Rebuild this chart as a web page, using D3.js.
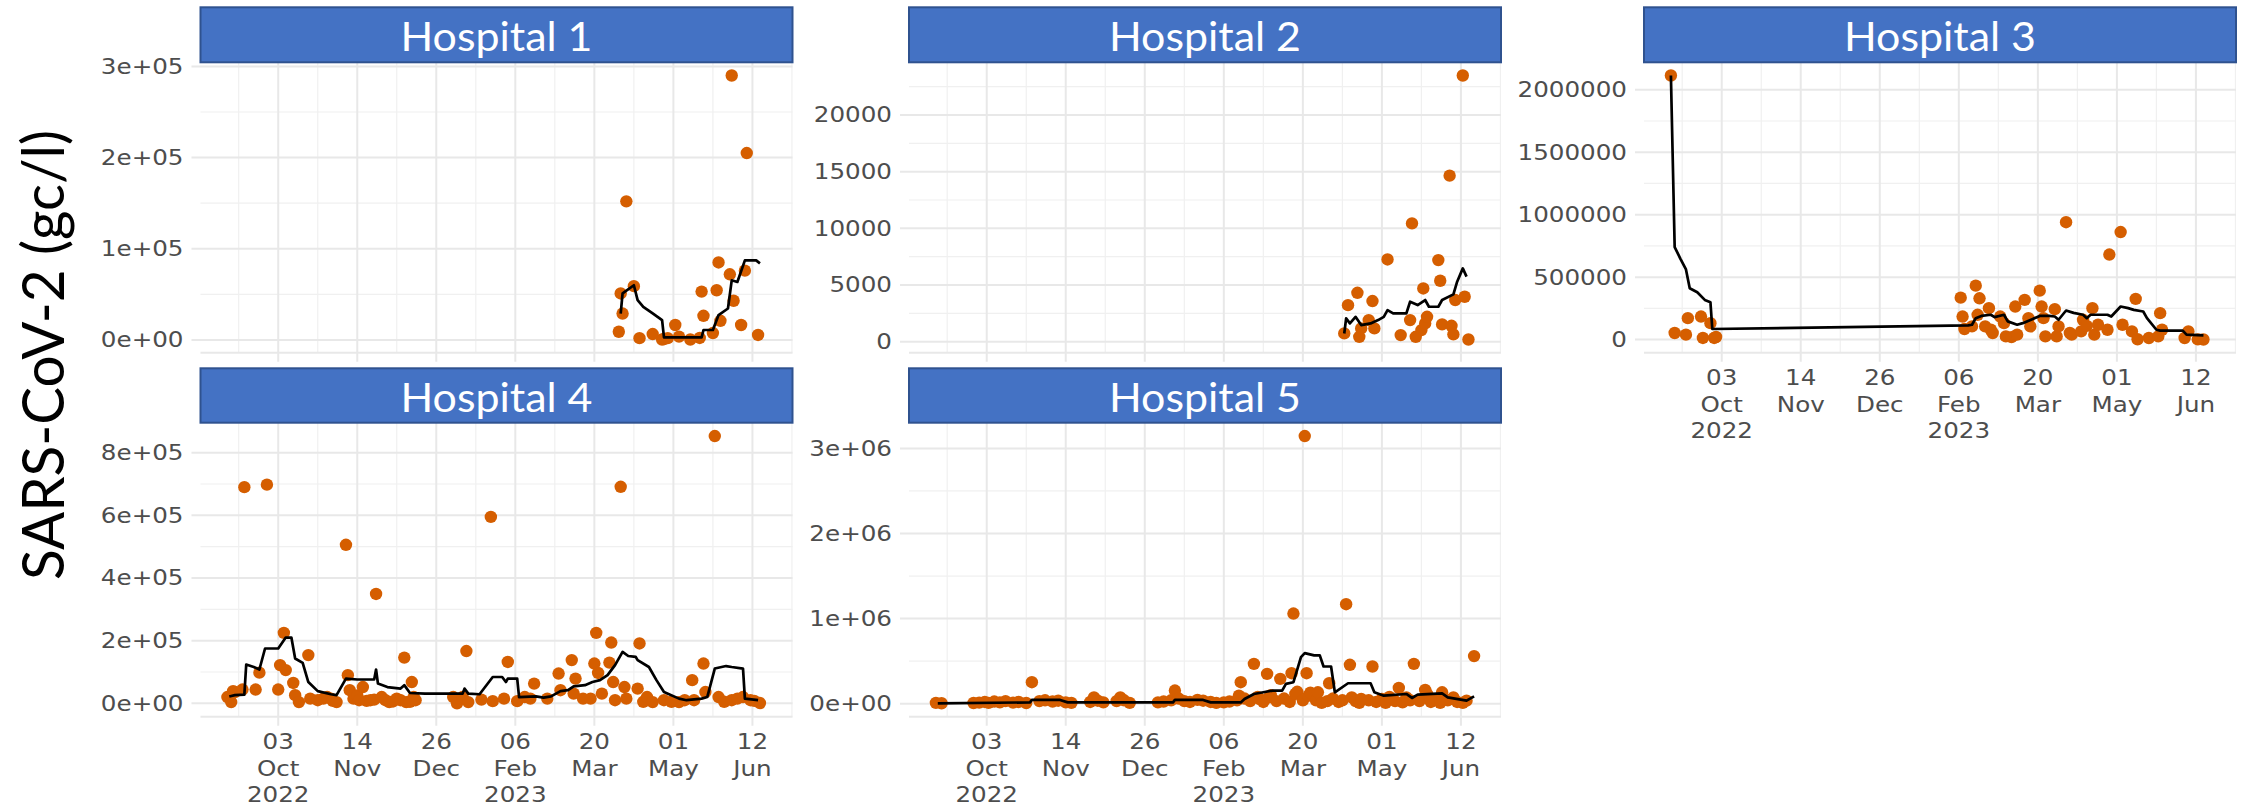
<!DOCTYPE html>
<html>
<head>
<meta charset="utf-8">
<script src="https://cdn.jsdelivr.net/npm/d3@7"></script>
<style>
  body { margin: 0; background: #fff; }
  svg { display: block; }
</style>
</head>
<body>
<svg id="chart"></svg>
<script>
/* ---------- Data ---------- */
const hospitalNames = ['Hospital 1', 'Hospital 2', 'Hospital 3', 'Hospital 4', 'Hospital 5'];
const yTitle = 'SARS-CoV-2 (gc/l)';

const xTickDates = ['2022-10-03', '2022-11-14', '2022-12-26', '2023-02-06', '2023-03-20', '2023-05-01', '2023-06-12'];
const xTickLabels = [['03', 'Oct', '2022'], ['14', 'Nov'], ['26', 'Dec'], ['06', 'Feb', '2023'], ['20', 'Mar'], ['01', 'May'], ['12', 'Jun']];

const h1Ticks = [0, 100000, 200000, 300000];
const h1TickLabels = ['0e+00', '1e+05', '2e+05', '3e+05'];
const h2Ticks = [0, 5000, 10000, 15000, 20000];
const h2TickLabels = ['0', '5000', '10000', '15000', '20000'];
const h3Ticks = [0, 500000, 1000000, 1500000, 2000000];
const h3TickLabels = ['0', '500000', '1000000', '1500000', '2000000'];
const h4Ticks = [0, 200000, 400000, 600000, 800000];
const h4TickLabels = ['0e+00', '2e+05', '4e+05', '6e+05', '8e+05'];
const h5Ticks = [0, 1000000, 2000000, 3000000];
const h5TickLabels = ['0e+00', '1e+06', '2e+06', '3e+06'];

// measured concentrations (points)
const h1Points = [
  ['2023-04-02', 9000], ['2023-04-03', 51000], ['2023-04-04', 29000], ['2023-04-06', 152000],
  ['2023-04-10', 59000], ['2023-04-13', 2000], ['2023-04-20', 6500], ['2023-04-25', 500],
  ['2023-04-26', 1000], ['2023-04-28', 2000], ['2023-05-02', 16400], ['2023-05-04', 3600],
  ['2023-05-10', 500], ['2023-05-15', 2200], ['2023-05-16', 53000], ['2023-05-17', 26500],
  ['2023-05-22', 7600], ['2023-05-24', 54500], ['2023-05-25', 85000], ['2023-05-26', 21000],
  ['2023-05-31', 72000], ['2023-06-01', 290000], ['2023-06-02', 43000], ['2023-06-06', 16400],
  ['2023-06-08', 76000], ['2023-06-09', 205000], ['2023-06-15', 5500]
];
const h2Points = [
  ['2023-04-11', 740], ['2023-04-13', 3230], ['2023-04-18', 4320], ['2023-04-19', 440],
  ['2023-04-20', 1180], ['2023-04-24', 1910], ['2023-04-26', 3590], ['2023-04-27', 1180],
  ['2023-05-04', 7260], ['2023-05-11', 590], ['2023-05-16', 1910], ['2023-05-17', 10440],
  ['2023-05-19', 440], ['2023-05-22', 1030], ['2023-05-23', 4700], ['2023-05-24', 1620],
  ['2023-05-25', 2200], ['2023-05-31', 7200], ['2023-06-01', 5380], ['2023-06-02', 1530],
  ['2023-06-06', 14650], ['2023-06-07', 1410], ['2023-06-08', 650], ['2023-06-09', 3680],
  ['2023-06-13', 23480], ['2023-06-14', 3970], ['2023-06-16', 200]
];
const h3Points = [
  ['2022-09-06', 2114000], ['2022-09-08', 53000], ['2022-09-14', 40000], ['2022-09-15', 172000],
  ['2022-09-22', 185000], ['2022-09-23', 13500], ['2022-09-27', 132000], ['2022-09-29', 13500],
  ['2022-09-30', 21000],
  ['2023-02-07', 336000], ['2023-02-08', 185000], ['2023-02-09', 85000], ['2023-02-13', 106000],
  ['2023-02-15', 432000], ['2023-02-16', 199000], ['2023-02-17', 331000], ['2023-02-20', 106000],
  ['2023-02-22', 252000], ['2023-02-23', 79000], ['2023-02-24', 53000], ['2023-02-28', 185000],
  ['2023-03-02', 132000], ['2023-03-03', 26000], ['2023-03-06', 20000], ['2023-03-08', 265000],
  ['2023-03-09', 40000], ['2023-03-13', 318000], ['2023-03-15', 172000], ['2023-03-16', 106000],
  ['2023-03-21', 392000], ['2023-03-22', 265000], ['2023-03-23', 172000], ['2023-03-24', 26000],
  ['2023-03-29', 244000], ['2023-03-30', 26000], ['2023-03-31', 106000], ['2023-04-04', 940000],
  ['2023-04-06', 53000], ['2023-04-07', 40000], ['2023-04-12', 66000], ['2023-04-13', 159000],
  ['2023-04-15', 110000], ['2023-04-18', 252000], ['2023-04-19', 40000], ['2023-04-21', 119000],
  ['2023-04-26', 79000], ['2023-04-27', 681000], ['2023-05-03', 861000], ['2023-05-04', 119000],
  ['2023-05-09', 66000], ['2023-05-11', 326000], ['2023-05-12', 3000], ['2023-05-18', 13000],
  ['2023-05-23', 26000], ['2023-05-24', 212000], ['2023-05-25', 79000], ['2023-06-06', 13000],
  ['2023-06-08', 66000], ['2023-06-13', 2000], ['2023-06-16', 1000]
];
const h4Points = [
  ['2022-09-06', 20000], ['2022-09-08', 4000], ['2022-09-09', 39000], ['2022-09-10', 36000],
  ['2022-09-14', 44000], ['2022-09-15', 690000], ['2022-09-21', 44000], ['2022-09-23', 98000],
  ['2022-09-27', 698000], ['2022-10-03', 44000], ['2022-10-04', 122000], ['2022-10-06', 225000],
  ['2022-10-07', 106000], ['2022-10-11', 65000], ['2022-10-12', 26000], ['2022-10-14', 4000],
  ['2022-10-19', 154000], ['2022-10-20', 15000], ['2022-10-24', 10000], ['2022-10-27', 15000],
  ['2022-10-29', 20000], ['2022-10-31', 15000], ['2022-11-01', 8000], ['2022-11-03', 4000],
  ['2022-11-08', 506000], ['2022-11-09', 90000], ['2022-11-10', 42000], ['2022-11-12', 15000],
  ['2022-11-14', 25000], ['2022-11-15', 10000], ['2022-11-17', 52000], ['2022-11-19', 8000],
  ['2022-11-21', 10000], ['2022-11-23', 12000], ['2022-11-24', 349000], ['2022-11-27', 20000],
  ['2022-11-29', 10000], ['2022-12-01', 4000], ['2022-12-03', 6000], ['2022-12-05', 15000],
  ['2022-12-07', 10000], ['2022-12-09', 146000], ['2022-12-10', 4000], ['2022-12-12', 5000],
  ['2022-12-13', 68000], ['2022-12-14', 20000], ['2022-12-15', 10000],
  ['2023-01-04', 20000], ['2023-01-06', 0], ['2023-01-09', 20000], ['2023-01-11', 167000],
  ['2023-01-12', 4000], ['2023-01-19', 12000], ['2023-01-24', 595000], ['2023-01-25', 7000],
  ['2023-01-31', 15000], ['2023-02-02', 132000], ['2023-02-07', 7000], ['2023-02-11', 20000],
  ['2023-02-14', 15000], ['2023-02-16', 63000], ['2023-02-23', 15000], ['2023-03-01', 95000],
  ['2023-03-02', 42000], ['2023-03-08', 138000], ['2023-03-09', 31000], ['2023-03-10', 79000],
  ['2023-03-14', 15000], ['2023-03-18', 15000], ['2023-03-20', 127000], ['2023-03-21', 225000],
  ['2023-03-22', 97000], ['2023-03-24', 31000], ['2023-03-28', 130000], ['2023-03-29', 194000],
  ['2023-03-30', 68000], ['2023-03-31', 10000], ['2023-04-03', 691000], ['2023-04-05', 52000],
  ['2023-04-06', 15000], ['2023-04-12', 47000], ['2023-04-13', 191000], ['2023-04-15', 5000],
  ['2023-04-17', 20000], ['2023-04-20', 4000], ['2023-04-26', 10000], ['2023-04-30', 5000],
  ['2023-05-04', 4000], ['2023-05-07', 10000], ['2023-05-11', 74000], ['2023-05-12', 10000],
  ['2023-05-17', 127000], ['2023-05-18', 36000], ['2023-05-23', 853000], ['2023-05-25', 20000],
  ['2023-05-28', 5000], ['2023-06-01', 10000], ['2023-06-04', 15000], ['2023-06-07', 20000],
  ['2023-06-11', 10000], ['2023-06-13', 8000], ['2023-06-16', 1000]
];
const h5Points = [
  ['2022-09-06', 10000], ['2022-09-09', 5000], ['2022-09-26', 8000], ['2022-09-29', 12000],
  ['2022-10-02', 20000], ['2022-10-04', 10000], ['2022-10-07', 25000], ['2022-10-10', 15000],
  ['2022-10-13', 30000], ['2022-10-17', 12000], ['2022-10-20', 20000], ['2022-10-24', 8000],
  ['2022-10-27', 252000], ['2022-10-31', 30000], ['2022-11-03', 40000], ['2022-11-07', 25000],
  ['2022-11-10', 35000], ['2022-11-14', 15000], ['2022-11-17', 10000], ['2022-11-27', 20000],
  ['2022-11-29', 74000], ['2022-12-01', 35000], ['2022-12-04', 15000], ['2022-12-11', 30000],
  ['2022-12-13', 74000], ['2022-12-15', 40000], ['2022-12-18', 10000],
  ['2023-01-02', 15000], ['2023-01-05', 25000], ['2023-01-09', 40000], ['2023-01-11', 154000],
  ['2023-01-13', 60000], ['2023-01-16', 30000], ['2023-01-19', 20000], ['2023-01-23', 45000],
  ['2023-01-26', 35000], ['2023-01-30', 20000], ['2023-02-02', 10000], ['2023-02-06', 15000],
  ['2023-02-09', 25000], ['2023-02-13', 40000], ['2023-02-14', 94000], ['2023-02-15', 252000],
  ['2023-02-17', 60000], ['2023-02-20', 30000], ['2023-02-22', 468000], ['2023-02-24', 80000],
  ['2023-02-25', 55000], ['2023-02-27', 20000], ['2023-03-01', 350000], ['2023-03-02', 74000],
  ['2023-03-03', 100000], ['2023-03-06', 30000], ['2023-03-08', 292000], ['2023-03-10', 60000],
  ['2023-03-13', 20000], ['2023-03-14', 358000], ['2023-03-15', 1059000], ['2023-03-16', 114000],
  ['2023-03-17', 140000], ['2023-03-20', 40000], ['2023-03-21', 3145000], ['2023-03-22', 358000],
  ['2023-03-23', 94000], ['2023-03-24', 130000], ['2023-03-27', 40000], ['2023-03-28', 134000],
  ['2023-03-30', 10000], ['2023-04-02', 30000], ['2023-04-03', 240000], ['2023-04-05', 60000],
  ['2023-04-08', 20000], ['2023-04-10', 40000], ['2023-04-12', 1169000], ['2023-04-14', 457000],
  ['2023-04-15', 74000], ['2023-04-17', 30000], ['2023-04-19', 10000], ['2023-04-20', 55000],
  ['2023-04-24', 40000], ['2023-04-26', 437000], ['2023-04-28', 20000], ['2023-05-01', 55000],
  ['2023-05-03', 10000], ['2023-05-05', 80000], ['2023-05-08', 30000], ['2023-05-10', 185000],
  ['2023-05-12', 15000], ['2023-05-14', 74000], ['2023-05-16', 40000], ['2023-05-18', 468000],
  ['2023-05-21', 30000], ['2023-05-24', 162000], ['2023-05-25', 114000], ['2023-05-27', 20000],
  ['2023-05-30', 50000], ['2023-06-01', 10000], ['2023-06-02', 134000], ['2023-06-05', 40000],
  ['2023-06-08', 74000], ['2023-06-10', 20000], ['2023-06-13', 10000], ['2023-06-15', 35000],
  ['2023-06-19', 559000]
];

// smoothed trend line (black), vertices
const h1Line = [
  ['2023-04-03', 29000], ['2023-04-04', 51000], ['2023-04-10', 60000], ['2023-04-12', 43600],
  ['2023-04-15', 36300], ['2023-04-20', 29100], ['2023-04-25', 21800], ['2023-04-26', 2900],
  ['2023-05-16', 2900], ['2023-05-17', 10900], ['2023-05-22', 10900], ['2023-05-25', 27300],
  ['2023-05-30', 34500], ['2023-06-01', 65400], ['2023-06-04', 63600], ['2023-06-08', 87300],
  ['2023-06-14', 87300], ['2023-06-16', 84000]
];
const h2Line = [
  ['2023-04-11', 730], ['2023-04-12', 2060], ['2023-04-14', 1620], ['2023-04-17', 2200],
  ['2023-04-20', 1470], ['2023-04-25', 1620], ['2023-04-29', 1910], ['2023-05-02', 2200],
  ['2023-05-04', 2790], ['2023-05-07', 2500], ['2023-05-14', 2500], ['2023-05-16', 3530],
  ['2023-05-20', 3240], ['2023-05-24', 3680], ['2023-05-26', 3090], ['2023-05-31', 3090],
  ['2023-06-02', 3680], ['2023-06-08', 4180], ['2023-06-10', 5300], ['2023-06-13', 6470],
  ['2023-06-15', 5740]
];
const h3Line = [
  ['2022-09-06', 2114000], ['2022-09-08', 741000], ['2022-09-11', 649000], ['2022-09-14', 562000],
  ['2022-09-16', 411000], ['2022-09-20', 379000], ['2022-09-24', 318000], ['2022-09-27', 300000],
  ['2022-09-28', 85000],
  ['2023-02-11', 114000], ['2023-02-13', 119000], ['2023-02-15', 172000], ['2023-02-18', 190000],
  ['2023-02-23', 199000], ['2023-02-25', 180000], ['2023-03-02', 199000], ['2023-03-04', 146000],
  ['2023-03-09', 119000], ['2023-03-12', 132000], ['2023-03-17', 164000], ['2023-03-21', 190000],
  ['2023-03-26', 190000], ['2023-03-29', 185000], ['2023-03-31', 159000], ['2023-04-04', 233000],
  ['2023-04-08', 214000], ['2023-04-13', 199000], ['2023-04-15', 172000], ['2023-04-17', 199000],
  ['2023-04-26', 199000], ['2023-04-28', 185000], ['2023-05-03', 265000], ['2023-05-07', 252000],
  ['2023-05-10', 238000], ['2023-05-15', 225000], ['2023-05-17', 172000], ['2023-05-22', 79000],
  ['2023-05-24', 72000], ['2023-06-05', 72000], ['2023-06-07', 40000], ['2023-06-16', 34000]
];
const h4Line = [
  ['2022-09-07', 22000], ['2022-09-10', 26000], ['2022-09-15', 28000], ['2022-09-16', 124000],
  ['2022-09-20', 116000], ['2022-09-23', 108000], ['2022-09-26', 175000], ['2022-10-03', 175000],
  ['2022-10-07', 210000], ['2022-10-10', 210000], ['2022-10-12', 143000], ['2022-10-16', 129000],
  ['2022-10-19', 68000], ['2022-10-24', 39000], ['2022-10-31', 29000], ['2022-11-03', 26000],
  ['2022-11-08', 79000], ['2022-11-14', 76000], ['2022-11-23', 76000], ['2022-11-24', 108000],
  ['2022-11-25', 63000], ['2022-11-30', 52000], ['2022-12-07', 47000], ['2022-12-09', 58000],
  ['2022-12-12', 33000], ['2022-12-20', 31000],
  ['2023-01-09', 31000], ['2023-01-10', 47000], ['2023-01-12', 31000], ['2023-01-18', 29000],
  ['2023-01-25', 84000], ['2023-01-30', 84000], ['2023-02-01', 68000], ['2023-02-02', 79000],
  ['2023-02-07', 79000], ['2023-02-08', 20000], ['2023-02-17', 22000], ['2023-02-21', 18000],
  ['2023-02-25', 22000], ['2023-03-02', 39000], ['2023-03-06', 42000], ['2023-03-09', 54000],
  ['2023-03-15', 58000], ['2023-03-19', 68000], ['2023-03-23', 74000], ['2023-03-27', 90000],
  ['2023-03-31', 122000], ['2023-04-04', 164000], ['2023-04-07', 151000], ['2023-04-11', 148000],
  ['2023-04-12', 138000], ['2023-04-18', 116000], ['2023-04-22', 74000], ['2023-04-26', 36000],
  ['2023-05-04', 15000], ['2023-05-08', 10000], ['2023-05-16', 15000], ['2023-05-19', 20000],
  ['2023-05-23', 111000], ['2023-05-29', 119000], ['2023-06-01', 116000], ['2023-06-07', 111000],
  ['2023-06-08', 15000], ['2023-06-15', 10000]
];
const h5Line = [
  ['2022-09-07', 4000], ['2022-10-26', 15000], ['2022-10-27', 44000], ['2022-11-11', 44000],
  ['2022-11-15', 15000],
  ['2023-01-10', 15000], ['2023-01-11', 44000], ['2023-01-26', 44000], ['2023-01-30', 15000],
  ['2023-02-15', 15000], ['2023-02-17', 55000], ['2023-02-22', 114000], ['2023-02-27', 134000],
  ['2023-03-04', 154000], ['2023-03-09', 154000], ['2023-03-11', 232000], ['2023-03-15', 252000],
  ['2023-03-19', 547000], ['2023-03-21', 594000], ['2023-03-26', 567000], ['2023-03-29', 567000],
  ['2023-03-31', 437000], ['2023-04-04', 437000], ['2023-04-06', 134000], ['2023-04-13', 240000],
  ['2023-04-25', 240000], ['2023-04-27', 134000], ['2023-05-02', 94000], ['2023-05-14', 114000],
  ['2023-05-17', 67000], ['2023-05-20', 106000], ['2023-06-02', 122000], ['2023-06-05', 74000],
  ['2023-06-15', 35000], ['2023-06-19', 86000]
];

/* ---------- Setup ---------- */
const W = 2246, H = 807;
const parseDate = d3.timeParse('%Y-%m-%d');

const colours = {
  point: '#D55E00',
  line: '#000000',
  gridMajor: '#e8e8e8',
  gridMinor: '#f0f0f0',
  stripFill: '#4472C4',
  stripStroke: '#2F528F',
  tickText: '#4d4d4d'
};

const colLeft = [200.5, 909, 1644];
const rowBox = [
  { strip: 7.3, top: 62.3, bottom: 352.7 },
  { strip: 368.3, top: 422.7, bottom: 716.7 }
];
const panelW = 592;
const labelScaleX = 1.2;

const panels = [
  { name: hospitalNames[0], points: h1Points, line: h1Line, ticks: h1Ticks, labels: h1TickLabels, col: 0, row: 0, xAxis: false },
  { name: hospitalNames[1], points: h2Points, line: h2Line, ticks: h2Ticks, labels: h2TickLabels, col: 1, row: 0, xAxis: false },
  { name: hospitalNames[2], points: h3Points, line: h3Line, ticks: h3Ticks, labels: h3TickLabels, col: 2, row: 0, xAxis: true },
  { name: hospitalNames[3], points: h4Points, line: h4Line, ticks: h4Ticks, labels: h4TickLabels, col: 0, row: 1, xAxis: true },
  { name: hospitalNames[4], points: h5Points, line: h5Line, ticks: h5Ticks, labels: h5TickLabels, col: 1, row: 1, xAxis: true }
];

// shared x domain: data range padded by 5% (ggplot default)
const allDates = panels.flatMap(p => p.points.concat(p.line).map(d => parseDate(d[0])));
const [dMin, dMax] = d3.extent(allDates);
const dPad = (dMax - dMin) * 0.05;
const xDomain = [new Date(+dMin - dPad), new Date(+dMax + dPad)];

const majorDates = xTickDates.map(parseDate);
const minorDates = majorDates.map(d => d3.timeDay.offset(d, -21))
  .concat([d3.timeDay.offset(majorDates[majorDates.length - 1], 21)])
  .filter(d => d >= xDomain[0] && d <= xDomain[1]);

const svg = d3.select('#chart').attr('width', W).attr('height', H);
svg.append('rect').attr('width', W).attr('height', H).attr('fill', '#fff');

/* ---------- Panels ---------- */
panels.forEach(p => {
  const L = colLeft[p.col];
  const box = rowBox[p.row];
  const g = svg.append('g').attr('class', 'panel');

  const x = d3.scaleTime().domain(xDomain).range([L, L + panelW]);
  const vals = p.points.concat(p.line).map(d => d[1]);
  const [vMin, vMax] = d3.extent(vals);
  const vPad = (vMax - vMin) * 0.05;
  const y = d3.scaleLinear().domain([vMin - vPad, vMax + vPad]).range([box.bottom, box.top]);

  const step = p.ticks[1] - p.ticks[0];
  const minorY = d3.range(p.ticks[0] - step / 2, y.domain()[1], step)
    .filter(v => v >= y.domain()[0]);

  const grid = g.append('g').attr('class', 'grid');
  // minor grid
  grid.selectAll('.hminor').data(minorY).join('line')
    .attr('x1', L).attr('x2', L + panelW)
    .attr('y1', d => y(d)).attr('y2', d => y(d))
    .attr('stroke', colours.gridMinor).attr('stroke-width', 1.2);
  grid.selectAll('.vminor').data(minorDates).join('line')
    .attr('x1', d => x(d)).attr('x2', d => x(d))
    .attr('y1', box.top).attr('y2', box.bottom)
    .attr('stroke', colours.gridMinor).attr('stroke-width', 1.2);
  // major grid (+ short ticks beyond the panel)
  grid.selectAll('.hmajor').data(p.ticks).join('line')
    .attr('x1', L - 9).attr('x2', L + panelW)
    .attr('y1', d => y(d)).attr('y2', d => y(d))
    .attr('stroke', colours.gridMajor).attr('stroke-width', 2);
  grid.selectAll('.vmajor').data(majorDates).join('line')
    .attr('x1', d => x(d)).attr('x2', d => x(d))
    .attr('y1', box.top).attr('y2', box.bottom + 9)
    .attr('stroke', colours.gridMajor).attr('stroke-width', 2);
  grid.append('line')
    .attr('x1', L).attr('x2', L + panelW)
    .attr('y1', box.bottom).attr('y2', box.bottom)
    .attr('stroke', colours.gridMajor).attr('stroke-width', 2);

  // points
  g.append('g').selectAll('circle').data(p.points).join('circle')
    .attr('cx', d => x(parseDate(d[0])))
    .attr('cy', d => y(d[1]))
    .attr('r', 6.2)
    .attr('fill', colours.point);

  // trend line
  const lineGen = d3.line()
    .x(d => x(parseDate(d[0])))
    .y(d => y(d[1]));
  g.append('path').datum(p.line)
    .attr('d', lineGen)
    .attr('fill', 'none')
    .attr('stroke', colours.line)
    .attr('stroke-width', 2.7)
    .attr('stroke-linejoin', 'round');

  // y tick labels
  g.append('g').selectAll('text').data(p.ticks).join('text')
    .attr('transform', d => `translate(${L - 17},${y(d)}) scale(${labelScaleX},1)`)
    .attr('text-anchor', 'end')
    .attr('dy', '0.36em')
    .attr('font-family', 'DejaVu Sans, sans-serif')
    .attr('font-size', 20.5)
    .attr('fill', colours.tickText)
    .text((d, i) => p.labels[i]);

  // x tick labels (bottom panel of each column)
  if (p.xAxis) {
    const xl = g.append('g').selectAll('g').data(majorDates).join('g');
    xl.each(function (d, i) {
      const lines = xTickLabels[i];
      d3.select(this).selectAll('text').data(lines).join('text')
        .attr('transform', (t, k) => `translate(${x(d)},${box.bottom + 25.3 + k * 26.3}) scale(${labelScaleX},1)`)
        .attr('text-anchor', 'middle')
        .attr('dy', '0.36em')
        .attr('font-family', 'DejaVu Sans, sans-serif')
        .attr('font-size', 20.5)
        .attr('fill', colours.tickText)
        .text(t => t);
    });
  }

  // strip
  g.append('rect')
    .attr('x', L).attr('y', box.strip)
    .attr('width', panelW).attr('height', box.top - box.strip)
    .attr('fill', colours.stripFill)
    .attr('stroke', colours.stripStroke)
    .attr('stroke-width', 2);
  g.append('text')
    .attr('x', L + panelW / 2)
    .attr('y', box.strip + 43.4)
    .attr('text-anchor', 'middle')
    .attr('font-family', 'Lato, sans-serif')
    .attr('font-size', 40.5)
    .attr('fill', '#fff')
    .attr('textLength', 192)
    .attr('lengthAdjust', 'spacingAndGlyphs')
    .text(p.name);
});

/* ---------- Y axis title ---------- */
svg.append('text')
  .attr('transform', 'translate(64,355) rotate(-90)')
  .attr('text-anchor', 'middle')
  .attr('font-family', 'Lato, sans-serif')
  .attr('font-size', 58)
  .attr('fill', '#000')
  .attr('textLength', 450)
  .attr('lengthAdjust', 'spacingAndGlyphs')
  .text(yTitle);
</script>
</body>
</html>
